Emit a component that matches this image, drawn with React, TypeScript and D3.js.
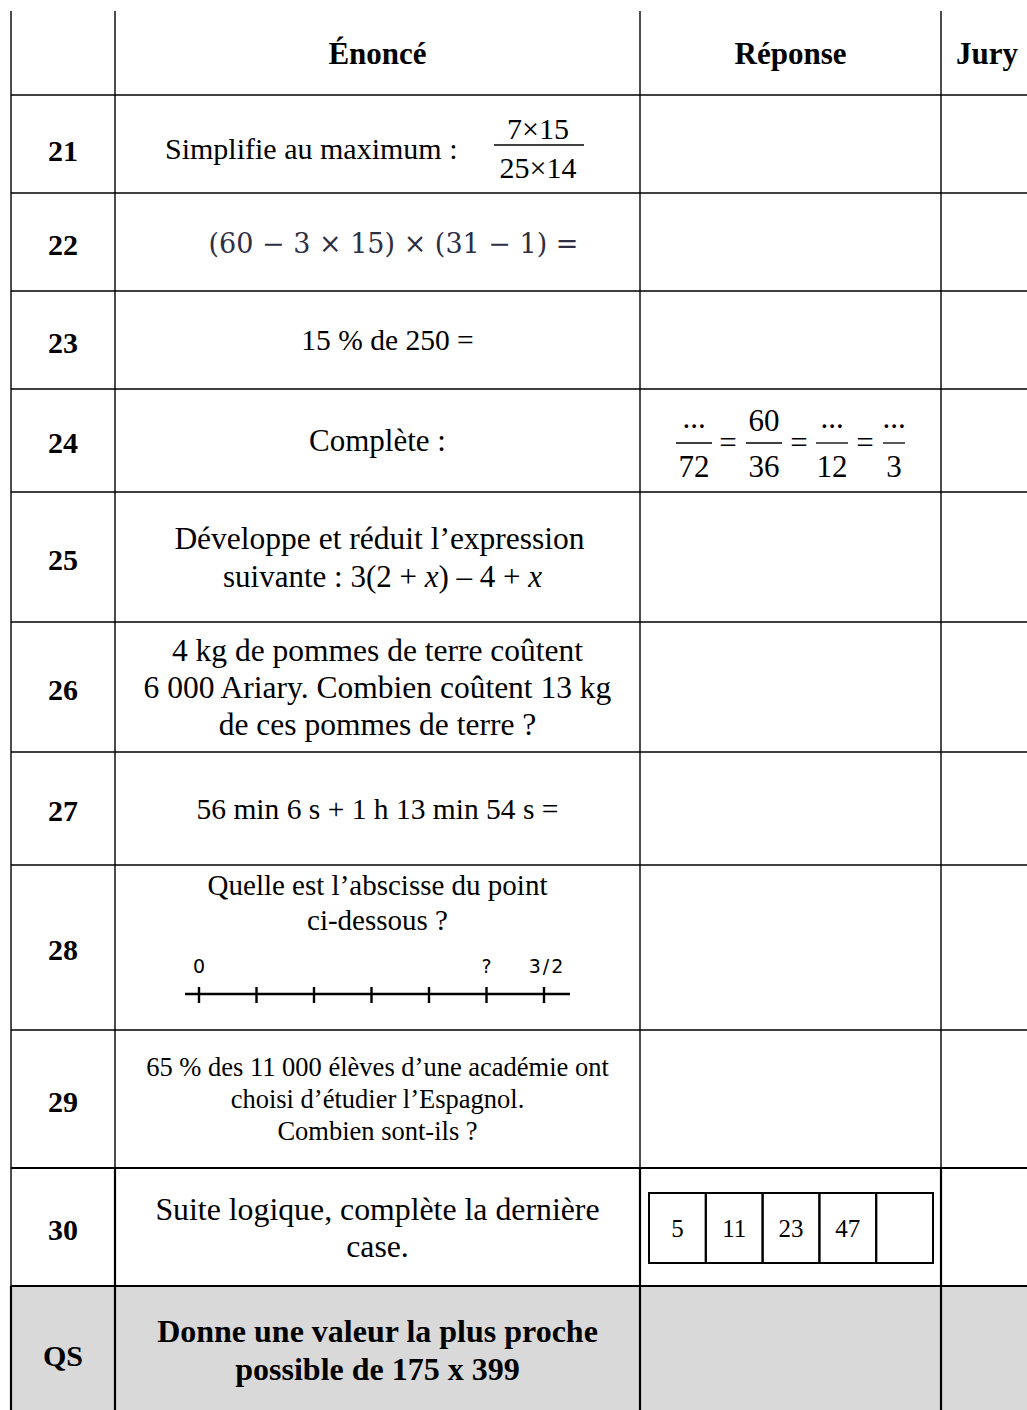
import * as d3 from 'd3';

// row ids shown in the first column
const rowIds = ['21', '22', '23', '24', '25', '26', '27', '28', '29', '30', 'QS'];
const headers = ['Énoncé', 'Réponse', 'Jury'];

// statements (one entry per line of text)
const statements: string[][] = [
  ['Simplifie au maximum :'],
  ['(60 − 3 × 15) × (31 − 1) ='],
  ['15 % de 250 ='],
  ['Complète :'],
  ['Développe et réduit l’expression', 'suivante :'],
  ['4 kg de pommes de terre coûtent', '6 000 Ariary. Combien coûtent 13 kg', 'de ces pommes de terre ?'],
  ['56 min 6 s + 1 h 13 min 54 s ='],
  ['Quelle est l’abscisse du point', 'ci-dessous ?'],
  ['65 % des 11 000 élèves d’une académie ont', 'choisi d’étudier l’Espagnol.', 'Combien sont-ils ?'],
  ['Suite logique, complète la dernière', 'case.'],
  ['Donne une valeur la plus proche', 'possible de 175 x 399'],
];

const fraction21 = { num: '7×15', den: '25×14' };
const fractions24 = [
  { num: '...', den: '72' },
  { num: '60', den: '36' },
  { num: '...', den: '12' },
  { num: '...', den: '3' },
];
const numberLineTicks = [0, 0.25, 0.5, 0.75, 1, 1.25, 1.5];
const numberLineLabels = [
  { v: 0, label: '0' },
  { v: 1.25, label: '?' },
  { v: 1.5, label: '3/2' },
];
const sequence = ['5', '11', '23', '47', ''];

// layout
const W = 1027;
const H = 1410;
const colX = [11, 115, 640, 941];
const rowEdges = [11, 95, 193, 291, 389, 492, 622, 752, 865, 1030, 1168, 1286, 1410];
const serif = '"Liberation Serif", "Times New Roman", serif';
const midStmt = (colX[1] + colX[2]) / 2;

// font size / line spacing / x shift per statement row
const stmtSize = [30, 27, 29.5, 31, 31.5, 31.5, 29.5, 29, 26.5, 31.8, 32];
const stmtGap = [0, 0, 0, 0, 39, 37, 0, 35, 32, 37, 38];
const stmtShift = [0, 16, 10, 0, 0, 0, 0, 0, 0, 0, 0];

export default function App() {
  const mid = (i: number) => (rowEdges[i] + rowEdges[i + 1]) / 2;

  const xLine = d3.scaleLinear().domain([0, 1.5]).range([199, 544]);
  const xBox = d3.scaleBand<number>().domain(d3.range(sequence.length)).range([649, 933]);

  return (
    <svg width={W} height={H} style={{ position: 'absolute', left: 0, top: 0, background: '#fff' }}
      fontFamily={serif}>
      {/* QS row fill */}
      <rect x={colX[0]} y={rowEdges[11]} width={W - colX[0]} height={H - rowEdges[11]} fill="#d9d9d9" />

      {/* horizontal rules */}
      {rowEdges.slice(1, 12).map((y, i) => (
        <line key={'h' + i} x1={colX[0]} x2={W} y1={y} y2={y} stroke="#000"
          strokeWidth={i === 9 || i === 10 ? 2 : 1.4} />
      ))}
      {/* vertical rules */}
      {colX.map((x, i) => (
        <g key={'v' + i}>
          <line x1={x} x2={x} y1={rowEdges[0]} y2={rowEdges[10]} stroke="#000" strokeWidth={1.4} />
          <line x1={x} x2={x} y1={rowEdges[10]} y2={H} stroke="#000"
            strokeWidth={i === 0 ? 1.4 : 2.2} />
        </g>
      ))}
      <line x1={colX[0]} x2={colX[0]} y1={rowEdges[11]} y2={H} stroke="#000" strokeWidth={2.2} />

      {/* header */}
      <g fontWeight="bold" fontSize={31}>
        <text x={midStmt} y={mid(0)} dy="0.35em" textAnchor="middle">{headers[0]}</text>
        <text x={(colX[2] + colX[3]) / 2} y={mid(0)} dy="0.35em" textAnchor="middle">{headers[1]}</text>
        <text x={956} y={mid(0)} dy="0.35em">{headers[2]}</text>
      </g>

      {/* row ids */}
      {rowIds.map((id, i) => (
        <text key={id} x={(colX[0] + colX[1]) / 2} y={mid(i + 1) + (i === 0 ? 6 : i === 10 ? 7 : 2)} dy="0.35em"
          textAnchor="middle" fontWeight="bold" fontSize={30}>{id}</text>
      ))}

      {/* plain statements */}
      {statements.map((lines, r) => {
        if (r === 0 || r === 1 || r === 7 || r === 4) return null;
        const n = lines.length;
        const cy = mid(r + 1) + (r === 10 ? 2 : 0);
        return (
          <g key={'s' + r} fontSize={stmtSize[r]} fontWeight={r === 10 ? 'bold' : 'normal'}>
            {lines.map((t, k) => (
              <text key={k} x={midStmt + stmtShift[r]} y={cy + (k - (n - 1) / 2) * stmtGap[r]} dy="0.35em" textAnchor="middle">{t}</text>
            ))}
          </g>
        );
      })}

      {/* row 21 */}
      <text x={165} y={mid(1) + 4} dy="0.35em" fontSize={stmtSize[0]}>{statements[0][0]}</text>
      <g fontSize={30} textAnchor="middle">
        <text x={538} y={139}>{fraction21.num}</text>
        <line x1={494} x2={584} y1={145} y2={145} stroke="#000" strokeWidth={1.4} />
        <text x={538} y={178}>{fraction21.den}</text>
      </g>

      {/* row 22 */}
      <text x={midStmt + stmtShift[1]} y={mid(2) + 2} dy="0.35em" textAnchor="middle" fontSize={stmtSize[1]}
        fontFamily='"DejaVu Serif", serif' fill="#2e2e44">{statements[1][0]}</text>

      {/* row 24 fractions */}
      <g fontSize={31} textAnchor="middle">
        {fractions24.map((f, i) => {
          const cx = [694, 764, 832, 894][i];
          const hw = [18, 18, 16, 11][i];
          return (
            <g key={'f' + i}>
              <text x={cx} y={f.num === '...' ? 428 : 431}>{f.num}</text>
              <line x1={cx - hw} x2={cx + hw} y1={443} y2={443} stroke="#000" strokeWidth={1.3} />
              <text x={cx} y={477}>{f.den}</text>
              {i < 3 && <text x={[728, 799, 865][i]} y={453}>=</text>}
            </g>
          );
        })}
      </g>

      {/* row 25 */}
      <g fontSize={stmtSize[4]} textAnchor="middle">
        <text x={midStmt + 2} y={mid(5) - stmtGap[4] / 2} dy="0.35em">{statements[4][0]}</text>
        <text x={midStmt + 5} y={mid(5) + stmtGap[4] / 2} dy="0.35em" fontSize={31}>
          {statements[4][1]}{'  3(2 + '}<tspan fontStyle="italic">x</tspan>{') – 4 + '}<tspan fontStyle="italic">x</tspan>
        </text>
      </g>

      {/* row 28 */}
      <g fontSize={stmtSize[7]} textAnchor="middle">
        <text x={midStmt} y={885} dy="0.35em">{statements[7][0]}</text>
        <text x={midStmt} y={885 + stmtGap[7]} dy="0.35em">{statements[7][1]}</text>
      </g>
      <g>
        <line x1={xLine(0) - 14} x2={xLine(1.5) + 26} y1={994} y2={994} stroke="#000" strokeWidth={2.4} />
        {numberLineTicks.map(v => (
          <line key={'t' + v} x1={xLine(v)} x2={xLine(v)} y1={987} y2={1003} stroke="#000" strokeWidth={2.4} />
        ))}
        {numberLineLabels.map(d => (
          <text key={'l' + d.v} x={xLine(d.v) + (d.label === '3/2' ? 3 : 0)} y={973}
            textAnchor="middle" fontSize={19} fontFamily='"DejaVu Sans", sans-serif'
            letterSpacing={d.label === '3/2' ? 2 : 0}>{d.label}</text>
        ))}
      </g>

      {/* row 30 sequence box */}
      <g>
        {sequence.map((s, i) => (
          <g key={'b' + i}>
            <rect x={xBox(i)} y={1193} width={xBox.bandwidth()} height={70} fill="none" stroke="#000" strokeWidth={2} />
            <text x={(xBox(i) as number) + xBox.bandwidth() / 2} y={1228} dy="0.35em" textAnchor="middle" fontSize={25}>{s}</text>
          </g>
        ))}
      </g>
    </svg>
  );
}
